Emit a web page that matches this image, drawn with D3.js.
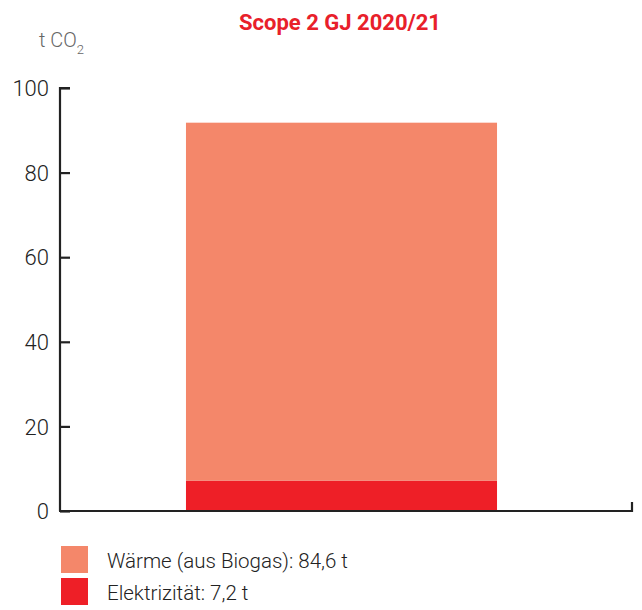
<!DOCTYPE html>
<html>
<head>
<meta charset="utf-8">
<script src="https://cdn.jsdelivr.net/npm/d3@7"></script>
<style>
	body { margin: 0; background: #fff; }
	text { font-family: Roboto, "Noto Sans", sans-serif; font-weight: 300; }
</style>
</head>
<body>
<div class="chart"></div>
<script>
// SCOPE 2 STACKED BAR
const categories = ['GJ 2020/21'];
const waerme = [84.6];
const strom = [7.2];
const seriesNames = ['Wärme (aus Biogas): 84,6 t', 'Elektrizität: 7,2 t'];
const seriesColors = ['#f4876a', '#ee1f27'];
const yTicks = [0, 20, 40, 60, 80, 100];

const fullWidth = 642;
const fullHeight = 610;
const margin = { top: 88, right: 10, bottom: 99, left: 60 };
const width = 632 - margin.left;
const height = 511 - margin.top;

const svg = d3.select('.chart')
	.append('svg')
		.attr('width', fullWidth)
		.attr('height', fullHeight);

const g = svg.append('g')
	.attr('transform', `translate(${margin.left}, ${margin.top})`);

const yScale = d3.scaleLinear()
	.domain([0, 100])
	.range([height, 0]);

const xScale = d3.scaleBand()
	.domain(categories)
	.range([0, 563])
	.paddingInner(0)
	.paddingOuter(0.405);

// stack the two series
const rows = categories.map((c, i) => ({ cat: c, strom: strom[i], waerme: waerme[i] }));
const stack = d3.stack().keys(['strom', 'waerme'])(rows);
const colorOf = { strom: seriesColors[1], waerme: seriesColors[0] };

g.selectAll('g.layer')
	.data(stack)
	.enter()
	.append('g')
		.attr('class', 'layer')
		.attr('fill', d => colorOf[d.key])
	.selectAll('rect')
	.data(d => d)
	.enter()
	.append('rect')
		.attr('x', d => xScale(d.data.cat))
		.attr('y', d => yScale(d[1]))
		.attr('width', xScale.bandwidth())
		.attr('height', d => yScale(d[0]) - yScale(d[1]));

// y axis, ticks pointing inward
const yAxis = d3.axisRight(yScale)
	.tickValues(yTicks)
	.tickSize(10)
	.tickFormat('');
const yg = g.append('g').call(yAxis);
yg.select('.domain').attr('d', `M10,0H0V${height}`);
yg.selectAll('line, path').attr('stroke', '#222').attr('stroke-width', 2.2);

yg.selectAll('.tick')
	.append('text')
		.attr('x', -11)
		.attr('dy', '0.35em')
		.attr('text-anchor', 'end')
		.attr('fill', '#222')
		.style('font-size', '22px')
		.text(d => d);

// x axis with end tick
g.append('path')
	.attr('d', `M-1,${height}H${width}V${height - 9}`)
	.attr('fill', 'none')
	.attr('stroke', '#222')
	.attr('stroke-width', 2.2);

// title & unit
svg.append('text')
	.attr('x', 340)
	.attr('y', 30)
	.attr('text-anchor', 'middle')
	.attr('fill', '#e8202a')
	.style('font-size', '22px')
	.style('font-weight', 'bold')
	.text('Scope 2 ' + categories[0]);

const unit = svg.append('text')
	.attr('x', 39)
	.attr('y', 47)
	.attr('fill', '#666')
	.style('font-size', '20px');
unit.append('tspan').text('t CO');
unit.append('tspan').attr('dy', 7).style('font-size', '13px').text('2');

// legend
const legend = svg.selectAll('g.legend')
	.data(seriesNames)
	.enter()
	.append('g')
		.attr('class', 'legend')
		.attr('transform', (d, i) => `translate(61, ${546 + i * 32})`);
legend.append('rect')
	.attr('width', 27)
	.attr('height', 27)
	.attr('fill', (d, i) => seriesColors[i]);
legend.append('text')
	.attr('x', 46)
	.attr('y', 22)
	.attr('fill', '#222')
	.style('font-size', '20.5px')
	.text(d => d);
</script>
</body>
</html>
